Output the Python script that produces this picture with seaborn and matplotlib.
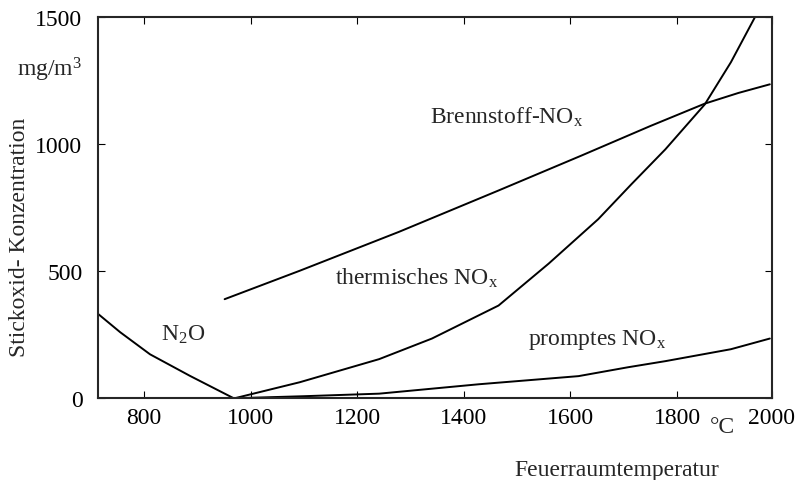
import numpy as np
import pandas as pd
import seaborn as sns
import matplotlib.pyplot as plt

# (temperature in °C, concentration in mg/m3)
n2o_temp = [713, 755, 811, 886, 968]
n2o_conc = [333, 260, 173, 88, 0]

fuel_temp = [951, 1092, 1278, 1465, 1620, 1750, 1852, 1915, 1974]
fuel_conc = [390, 502, 655, 818, 955, 1072, 1160, 1202, 1236]

thermal_temp = [970, 1092, 1241, 1340, 1465, 1559, 1652, 1714, 1778, 1852, 1901, 1946]
thermal_conc = [0, 63, 154, 235, 365, 530, 705, 842, 980, 1157, 1323, 1500]

prompt_temp = [970, 1100, 1241, 1428, 1615, 1708, 1778, 1901, 1974]
prompt_conc = [0, 8, 18, 55, 87, 122, 146, 193, 235]

x_ticks = [800, 1000, 1200, 1400, 1600, 1800, 1978]
x_tick_labels = ['800', '1000', '1200', '1400', '1600', '1800', '2000']
y_ticks = [0, 500, 1000, 1500]

curves = {
    'N2O': (n2o_temp, n2o_conc),
    'Brennstoff': (fuel_temp, fuel_conc),
    'thermisch': (thermal_temp, thermal_conc),
    'prompt': (prompt_temp, prompt_conc),
}

sns.set_style('ticks')
plt.rcParams['font.family'] = ['Liberation Serif', 'DejaVu Serif']
plt.rcParams['mathtext.fontset'] = 'custom'
plt.rcParams['mathtext.rm'] = 'Liberation Serif'
plt.rcParams['mathtext.it'] = 'Liberation Serif:italic'

fs = 17

fig, ax = plt.subplots(figsize=(7.95, 4.81), dpi=100)
fig.subplots_adjust(left=0.123, right=0.971, bottom=0.17, top=0.962)

for name, (t, c) in curves.items():
    df = pd.DataFrame({'T': t, 'C': c})
    sns.lineplot(data=df, x='T', y='C', color='black', linewidth=1.4,
                 sort=False, estimator=None, ax=ax)

ax.set_xlim(713, 1978)
ax.set_ylim(0, 1500)
ax.set_xticks(x_ticks)
ax.set_xticklabels(x_tick_labels)
ax.set_yticks(y_ticks)

for s in ax.spines.values():
    s.set_linewidth(1.5)
    s.set_visible(True)
ax.tick_params(direction='in', top=True, right=True, length=5, width=0.8,
               labelsize=fs, colors='black')
ax.tick_params(axis='x', pad=6)
ax.tick_params(axis='y', pad=11)

# curve labels
ax.text(873, 252, 'N$_2$O', fontsize=fs, ha='center', va='center')
ax.text(1312, 476, 'thermisches NO$_\\mathrm{x}$', fontsize=fs, ha='center', va='center')
ax.text(1480, 1110, 'Brennstoff-NO$_\\mathrm{x}$', fontsize=fs, ha='center', va='center')
ax.text(1649, 232, 'promptes NO$_\\mathrm{x}$', fontsize=fs, ha='center', va='center')

# units
ax.text(-0.023, 1295, 'mg/m$^3$', fontsize=fs, ha='right', va='center',
        transform=ax.get_yaxis_transform())
ax.text(0.926, -0.073, '°C', fontsize=fs, ha='center', va='center',
        transform=ax.transAxes)

ax.set_xlabel('Feuerraumtemperatur', fontsize=fs)
ax.xaxis.set_label_coords(0.77, -0.16)
ax.set_ylabel('Stickoxid- Konzentration', fontsize=fs)
ax.yaxis.set_label_coords(-0.1, 0.425)

fig.savefig('out.png', dpi=100)
